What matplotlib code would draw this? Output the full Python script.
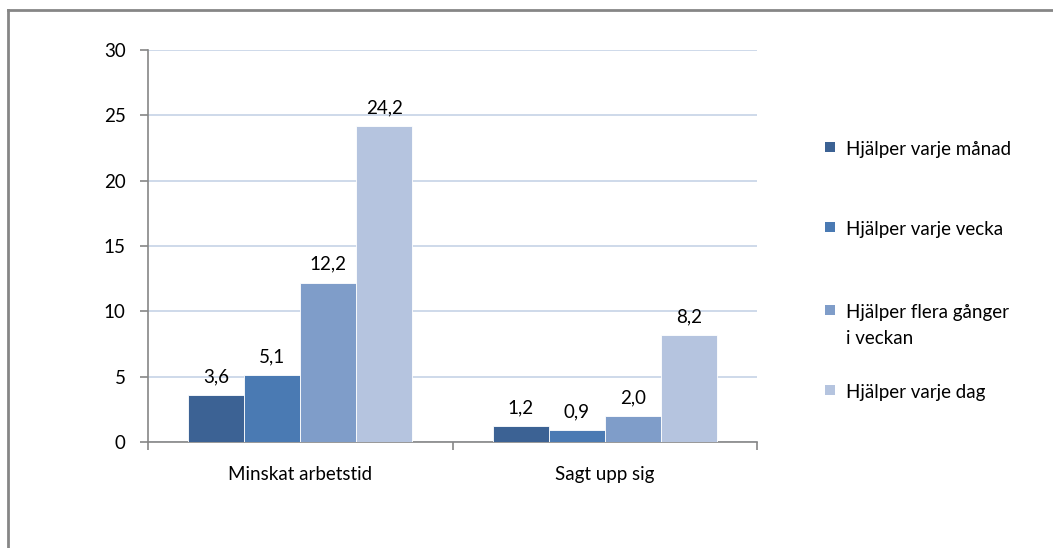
import matplotlib.pyplot as plt
import numpy as np
from matplotlib.patches import Rectangle
from matplotlib.lines import Line2D

plt.rcParams['font.family'] = ['Lato', 'DejaVu Sans']

categories = ['Minskat arbetstid', 'Sagt upp sig']
series = ['Hjälper varje månad', 'Hjälper varje vecka',
          'Hjälper flera gånger\ni veckan', 'Hjälper varje dag']
values = [
    [3.6, 1.2],
    [5.1, 0.9],
    [12.2, 2.0],
    [24.2, 8.2],
]
colors = ['#3C6294', '#4A7AB3', '#7F9DC9', '#B5C4DF']
yticks = [0, 5, 10, 15, 20, 25, 30]

W, H = 1053, 548
FS = 13.5
fig = plt.figure(figsize=(W / 100, H / 100), dpi=100)
ax = fig.add_axes([148 / W, 1 - 442 / H, (757 - 148) / W, (442 - 50) / H])

# outer chart frame (only top and left visible in the crop)
fig.add_artist(Line2D([8 / W, 8 / W], [0, 1 - 10 / H], color='#868686', lw=2,
                      transform=fig.transFigure))
fig.add_artist(Line2D([8 / W, 1], [1 - 10 / H, 1 - 10 / H], color='#868686', lw=2,
                      transform=fig.transFigure))

x = np.arange(len(categories))
w = 0.184
for i, (vals, c, lab) in enumerate(zip(values, colors, series)):
    bars = ax.bar(x + (i - 1.5) * w, vals, w, color=c, edgecolor='white', linewidth=0.6,
                  label=lab, zorder=3)
    ax.bar_label(bars, labels=[f'{v:.1f}'.replace('.', ',') for v in vals],
                 padding=7, fontsize=FS)

ax.set_xlim(-0.5, 1.5)
ax.set_ylim(0, 30)
ax.set_yticks(yticks)
ax.set_yticklabels([str(t) for t in yticks], fontsize=FS)
ax.yaxis.grid(True, color='#C6D3E6', lw=1.2, zorder=0)
ax.set_axisbelow(True)

ax.set_xticks([-0.5, 0.5, 1.5])
ax.set_xticklabels([])
ax.set_xticks(x, minor=True)
ax.set_xticklabels(categories, minor=True, fontsize=FS)
ax.tick_params(axis='x', which='minor', length=0, pad=17)
ax.tick_params(axis='x', which='major', length=6, color='#868686', width=1.2)
ax.tick_params(axis='y', length=6, color='#868686', width=1.2, pad=10)

for s in ['top', 'right']:
    ax.spines[s].set_visible(False)
for s in ['left', 'bottom']:
    ax.spines[s].set_color('#868686')
    ax.spines[s].set_linewidth(1.2)

# legend, laid out like the Excel one (square aligned with the first line)
legend_y = [147, 227, 310, 390]
for c, lab, yy in zip(colors, series, legend_y):
    fig.add_artist(Rectangle((825 / W, 1 - (yy + 5) / H), 10 / W, 10 / H,
                             facecolor=c, edgecolor='none', transform=fig.transFigure))
    fig.text(846 / W, 1 - (yy - 6) / H, lab, fontsize=FS, va='top', ha='left',
             linespacing=1.65)

fig.savefig('out.png', dpi=100, facecolor='white')
